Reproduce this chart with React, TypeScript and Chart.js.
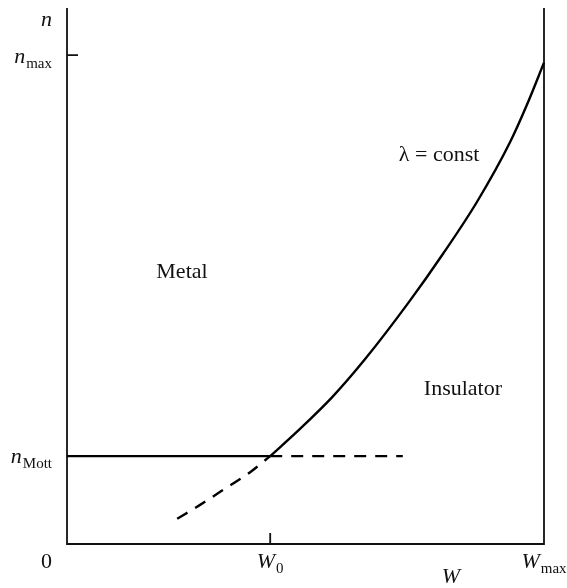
import React, { useEffect, useRef } from "react";
import Chart from "chart.js/auto";

// Metal–insulator boundary (λ = const), W / W_max vs n / n_top
const boundaryW = [0.426, 0.484, 0.556, 0.625, 0.719, 0.788, 0.86, 0.929, 0.964, 1.0];
const boundaryN = [0.164, 0.211, 0.274, 0.345, 0.454, 0.541, 0.639, 0.75, 0.819, 0.898];

// Extrapolation of the boundary below the Mott density (dashed)
const extrapW = [0.231, 0.279, 0.331, 0.384, 0.426];
const extrapN = [0.047, 0.073, 0.103, 0.134, 0.164];

// Mott density: solid up to W0, dashed continuation beyond
const mottSolidW = [0, 0.426];
const mottDashW = [0.426, 0.704];
const nMott = 0.164;

// Marked tick positions
const W0 = 0.426;
const nMax = 0.912;

const SERIF = '"Liberation Serif", "DejaVu Serif", serif';
const INK = "#111";

const toPoints = (xs: number[], ys: number[]) => xs.map((x, i) => ({ x, y: ys[i] }));

// Draws an italic symbol with an optional roman subscript
function drawSubscripted(
  ctx: CanvasRenderingContext2D,
  main: string,
  sub: string,
  x: number,
  y: number,
  align: "left" | "center" | "right"
) {
  const mainFont = `italic 22px ${SERIF}`;
  const subFont = `15px ${SERIF}`;
  ctx.font = mainFont;
  const mw = ctx.measureText(main).width;
  ctx.font = subFont;
  const sw = sub ? ctx.measureText(sub).width : 0;
  const total = mw + sw + (sub ? 1 : 0);
  let left = x;
  if (align === "center") left = x - total / 2;
  if (align === "right") left = x - total;
  ctx.textAlign = "left";
  ctx.textBaseline = "alphabetic";
  ctx.font = mainFont;
  ctx.fillText(main, left, y);
  if (sub) {
    ctx.font = subFont;
    ctx.fillText(sub, left + mw + 1, y + 5);
  }
}

const framePlugin = {
  id: "phaseFrame",
  beforeDatasetsDraw(chart: any) {
    const { ctx, chartArea, scales } = chart;
    const { left, right, top, bottom } = chartArea;
    const xs = scales.x;
    const ys = scales.y;
    ctx.save();
    ctx.strokeStyle = INK;
    ctx.lineWidth = 1.8;
    ctx.beginPath();
    ctx.moveTo(left, top);
    ctx.lineTo(left, bottom);
    ctx.lineTo(right, bottom);
    ctx.lineTo(right, top);
    ctx.stroke();

    // inward ticks
    const yMax = ys.getPixelForValue(nMax);
    const xW0 = xs.getPixelForValue(W0);
    ctx.beginPath();
    ctx.moveTo(left, yMax);
    ctx.lineTo(left + 11, yMax);
    ctx.moveTo(xW0, bottom);
    ctx.lineTo(xW0, bottom - 11);
    ctx.stroke();

    ctx.fillStyle = INK;
    const yMott = ys.getPixelForValue(nMott);
    const labelRight = left - 15;

    // vertical axis labels
    drawSubscripted(ctx, "n", "", labelRight, top + 18, "right");
    drawSubscripted(ctx, "n", "max", labelRight, yMax + 8, "right");
    drawSubscripted(ctx, "n", "Mott", labelRight, yMott + 7, "right");

    // horizontal axis labels
    ctx.font = `22px ${SERIF}`;
    ctx.textAlign = "right";
    ctx.textBaseline = "alphabetic";
    ctx.fillText("0", labelRight, bottom + 24);
    drawSubscripted(ctx, "W", "0", xW0, bottom + 24, "center");
    drawSubscripted(ctx, "W", "max", right, bottom + 24, "center");
    drawSubscripted(ctx, "W", "", xs.getPixelForValue(0.805), bottom + 39, "center");

    // region labels
    ctx.font = `22px ${SERIF}`;
    ctx.textAlign = "center";
    ctx.textBaseline = "middle";
    ctx.fillText("Metal", xs.getPixelForValue(0.241), ys.getPixelForValue(0.507));
    ctx.fillText("Insulator", xs.getPixelForValue(0.83), ys.getPixelForValue(0.288));
    ctx.fillText("λ = const", xs.getPixelForValue(0.78), ys.getPixelForValue(0.726));
    ctx.restore();
  },
};

export default function App() {
  const canvasRef = useRef<HTMLCanvasElement | null>(null);

  useEffect(() => {
    if (!canvasRef.current) return;
    const lineStyle = {
      borderColor: "#000",
      borderWidth: 2.4,
      pointRadius: 0,
      showLine: true,
      fill: false,
      clip: false as any,
      cubicInterpolationMode: "monotone" as const,
    };
    const chart = new Chart(canvasRef.current, {
      type: "scatter",
      data: {
        datasets: [
          {
            ...lineStyle,
            label: "λ = const",
            data: toPoints(boundaryW, boundaryN),
          },
          {
            ...lineStyle,
            label: "n_Mott",
            data: toPoints(mottSolidW, mottSolidW.map(() => nMott)),
          },
          {
            ...lineStyle,
            label: "n_Mott (extended)",
            data: toPoints(mottDashW, mottDashW.map(() => nMott)),
            borderDash: [12, 9],
          },
          {
            ...lineStyle,
            label: "extrapolated",
            data: toPoints(extrapW, extrapN),
            borderDash: [12, 9],
          },
        ],
      },
      options: {
        animation: false,
        responsive: false,
        maintainAspectRatio: false,
        layout: { padding: { left: 67, right: 23, top: 8, bottom: 44 } },
        plugins: {
          legend: { display: false },
          tooltip: { enabled: false },
        },
        scales: {
          x: { type: "linear", min: 0, max: 1, display: false },
          y: { type: "linear", min: 0, max: 1, display: false },
        },
      },
      plugins: [framePlugin],
    });
    return () => chart.destroy();
  }, []);

  return (
    <div style={{ position: "fixed", left: 0, top: 0, width: 567, height: 588, background: "#fff" }}>
      <canvas ref={canvasRef} width={567} height={588} style={{ display: "block" }} />
    </div>
  );
}
